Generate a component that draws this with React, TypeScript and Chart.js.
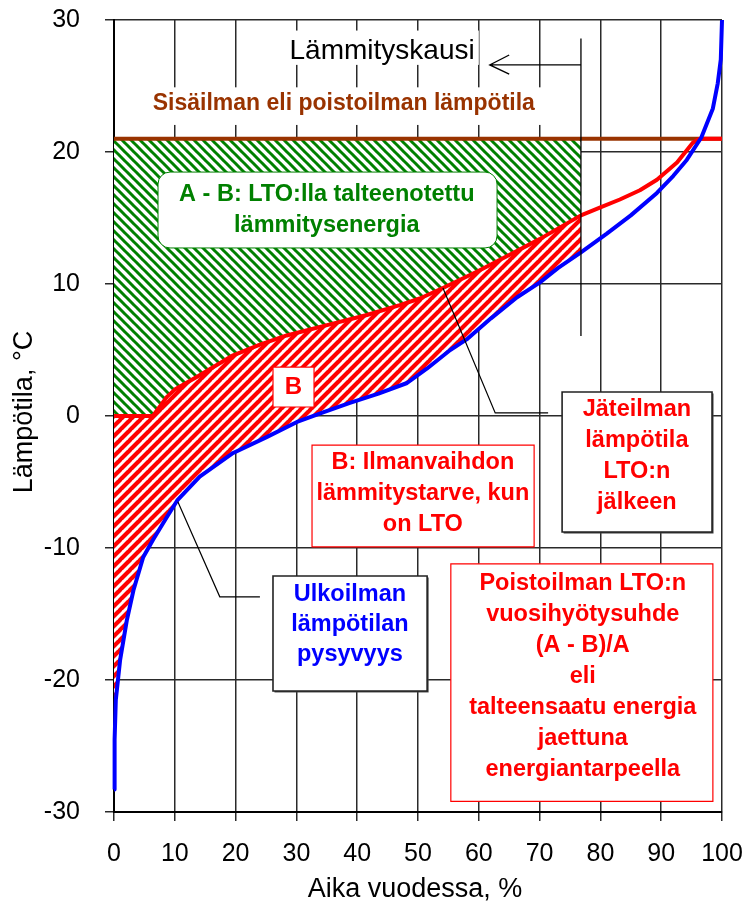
import React, { useEffect, useRef } from 'react';
import { Chart, registerables } from 'chart.js';

Chart.register(...registerables);

const FONT = '"Liberation Sans", Arial, Helvetica, sans-serif';

// ---- Data -------------------------------------------------------------
// Time of year (%) and exhaust-air temperature after heat recovery (°C)
const exhaustX = [0, 6.4, 8.7, 10, 13.6, 19.6, 24, 28.4, 36, 41.6, 47, 50.3, 54.1, 60, 65, 70, 76.8, 80, 83.2, 86.5, 89.3, 92.6, 95.2, 96.3, 100];
const exhaustY = [0, 0, 1.45, 2.0, 2.95, 4.6, 5.4, 6.1, 7.0, 7.65, 8.4, 8.9, 9.7, 11.0, 12.2, 13.4, 15.2, 15.8, 16.4, 17.1, 17.9, 19.2, 20.7, 21, 21];

// Outdoor temperature duration curve
const outdoorX = [0, 0.1, 0.3, 1.0, 2.1, 3.2, 4.8, 6.4, 8.5, 10.4, 14.1, 19.6, 25.1, 30.1, 34.5, 38.8, 43.5, 48.2, 51.5, 55.3, 58, 62, 66.3, 70, 73, 76.8, 81, 85, 89.3, 92, 94.2, 96.6, 98.5, 99.3, 99.8, 100];
const outdoorY = [-28.3, -24.5, -21.5, -18.5, -15.5, -13.2, -10.7, -9.4, -7.8, -6.4, -4.6, -2.8, -1.6, -0.45, 0.3, 1.0, 1.7, 2.5, 3.6, 5.0, 5.8, 7.4, 9.0, 10.1, 11.2, 12.4, 13.8, 15.2, 16.9, 18.2, 19.4, 21.1, 23.3, 25.2, 27.0, 30];

// Indoor (= extract) air temperature
const indoorX = [0, 100];
const indoorY = [21, 21];
const INDOOR_TEMP = 21;

// End of heating season (% of year)
const HEATING_SEASON_END = 76.8;

const X_MIN = 0, X_MAX = 100, X_STEP = 10;
const Y_MIN = -30, Y_MAX = 30, Y_STEP = 10;

// ---- Annotations (in data units) -------------------------------------
const LABEL_BACKGROUNDS = [
  { x0: 28.1, x1: 60.0, y0: 26.6, y1: 29.2 },
  { x0: 5.1, x1: 75.0, y0: 22.05, y1: 24.9 },
];

const FREE_TEXTS = [
  { text: 'Lämmityskausi', x: 44.1, y: 27.6, size: 28, bold: false, color: '#000000' },
  { text: 'Sisäilman eli poistoilman lämpötila', x: 37.8, y: 23.7, size: 23, bold: true, color: '#993300' },
];

const CALLOUTS = [
  [[54.1, 9.7], [62.7, 0.23], [71.4, 0.23]],
  [[10.5, -6.5], [17.4, -13.7], [24.0, -13.7]],
];

const BOXES = [
  { x0: 7.24, x1: 63.0, y0: 12.73, y1: 18.48, radius: 12, border: '#008000', bw: 1, shadow: false,
    lines: ['A - B: LTO:lla talteenotettu', 'lämmitysenergia'], cx: 35.0, cy: 15.57, spacing: 31, color: '#008000', size: 23.5 },
  { x0: 26.15, x1: 32.9, y0: 0.68, y1: 3.71, radius: 0, border: '#ff0000', bw: 1.2, shadow: false,
    lines: ['B'], cx: 29.5, cy: 2.2, spacing: 30, color: '#ff0000', size: 24 },
  { x0: 32.57, x1: 69.1, y0: -9.92, y1: -2.2, radius: 0, border: '#ff0000', bw: 1.2, shadow: false,
    lines: ['B: Ilmanvaihdon', 'lämmitystarve, kun', 'on LTO'], cx: 50.8, cy: -5.9, spacing: 31, color: '#ff0000', size: 23.5 },
  { x0: 73.7, x1: 98.36, y0: -8.79, y1: 1.82, radius: 0, border: '#222222', bw: 1.6, shadow: true,
    lines: ['Jäteilman', 'lämpötila', 'LTO:n', 'jälkeen'], cx: 86.0, cy: -3.03, spacing: 31.3, color: '#ff0000', size: 23.5 },
  { x0: 26.15, x1: 51.5, y0: -20.83, y1: -12.12, radius: 0, border: '#222222', bw: 1.6, shadow: true,
    lines: ['Ulkoilman', 'lämpötilan', 'pysyvyys'], cx: 38.8, cy: -15.83, spacing: 30, color: '#0000ff', size: 23.5 },
  { x0: 55.4, x1: 98.5, y0: -29.2, y1: -11.2, radius: 0, border: '#ff0000', bw: 1.2, shadow: false,
    lines: ['Poistoilman LTO:n', 'vuosihyötysuhde', '(A - B)/A', 'eli', 'talteensaatu energia', 'jaettuna', 'energiantarpeella'],
    cx: 77.1, cy: -19.7, spacing: 31, color: '#ff0000', size: 23.5 },
];

const X_TITLE = 'Aika vuodessa, %';
const Y_TITLE = 'Lämpötila, °C';

// ---- Helpers ---------------------------------------------------------
const toPoints = (xs: number[], ys: number[]) => xs.map((x, i) => ({ x, y: ys[i] }));

function makeHatch(ctx: CanvasRenderingContext2D, color: string, period: number, width: number, dir: 'down' | 'up') {
  const c = document.createElement('canvas');
  c.width = period;
  c.height = period;
  const g = c.getContext('2d')!;
  g.fillStyle = '#ffffff';
  g.fillRect(0, 0, period, period);
  g.strokeStyle = color;
  g.lineWidth = width;
  g.beginPath();
  for (let k = -1; k <= 1; k++) {
    if (dir === 'down') {
      g.moveTo(k * period - 1, -1);
      g.lineTo(k * period + period + 1, period + 1);
    } else {
      g.moveTo(k * period - 1, period + 1);
      g.lineTo(k * period + period + 1, -1);
    }
  }
  g.stroke();
  return ctx.createPattern(c, 'repeat')!;
}

const annotationPlugin = {
  id: 'lto-annotations',
  beforeDatasetsDraw(chart: any) {
    const { ctx, scales } = chart;
    const X = (v: number) => scales.x.getPixelForValue(v);
    const Y = (v: number) => scales.y.getPixelForValue(v);
    ctx.save();
    ctx.fillStyle = '#ffffff';
    for (const b of LABEL_BACKGROUNDS) {
      ctx.fillRect(X(b.x0), Y(b.y1), X(b.x1) - X(b.x0), Y(b.y0) - Y(b.y1));
    }
    ctx.restore();
  },
  afterDatasetsDraw(chart: any) {
    const { ctx, scales } = chart;
    const X = (v: number) => scales.x.getPixelForValue(v);
    const Y = (v: number) => scales.y.getPixelForValue(v);
    ctx.save();

    // free texts
    ctx.textAlign = 'center';
    ctx.textBaseline = 'middle';
    for (const t of FREE_TEXTS) {
      ctx.font = `${t.bold ? 'bold ' : ''}${t.size}px ${FONT}`;
      ctx.fillStyle = t.color;
      ctx.fillText(t.text, X(t.x), Y(t.y));
    }

    // heating season marker + arrow
    ctx.strokeStyle = '#000000';
    ctx.lineWidth = 1.3;
    ctx.beginPath();
    ctx.moveTo(X(HEATING_SEASON_END), Y(28.6));
    ctx.lineTo(X(HEATING_SEASON_END), Y(6.06));
    ctx.moveTo(X(HEATING_SEASON_END), Y(26.6));
    ctx.lineTo(X(61.8), Y(26.6));
    ctx.moveTo(X(65.0), Y(27.35));
    ctx.lineTo(X(61.8), Y(26.6));
    ctx.lineTo(X(65.0), Y(25.9));
    ctx.stroke();

    // callout lines
    ctx.lineWidth = 1.2;
    for (const c of CALLOUTS) {
      ctx.beginPath();
      c.forEach(([vx, vy], i) => (i === 0 ? ctx.moveTo(X(vx), Y(vy)) : ctx.lineTo(X(vx), Y(vy))));
      ctx.stroke();
    }

    // boxes
    for (const b of BOXES) {
      const l = X(b.x0), r = X(b.x1), t = Y(b.y1), btm = Y(b.y0);
      if (b.shadow) {
        ctx.fillStyle = '#444444';
        ctx.fillRect(l + 1.5, t + 1.5, r - l, btm - t);
      }
      ctx.beginPath();
      if (b.radius > 0) {
        ctx.roundRect(l, t, r - l, btm - t, b.radius);
      } else {
        ctx.rect(l, t, r - l, btm - t);
      }
      ctx.fillStyle = '#ffffff';
      ctx.fill();
      ctx.lineWidth = b.bw;
      ctx.strokeStyle = b.border;
      ctx.stroke();

      ctx.font = `bold ${b.size}px ${FONT}`;
      ctx.fillStyle = b.color;
      ctx.textAlign = 'center';
      ctx.textBaseline = 'middle';
      const n = b.lines.length;
      const cyPx = Y(b.cy);
      b.lines.forEach((line, i) => {
        ctx.fillText(line, X(b.cx), cyPx + (i - (n - 1) / 2) * b.spacing);
      });
    }
    ctx.restore();
  },
  afterDraw(chart: any) {
    const { ctx, chartArea } = chart;
    ctx.save();
    ctx.fillStyle = '#000000';
    ctx.font = `27px ${FONT}`;
    ctx.textAlign = 'center';
    ctx.textBaseline = 'middle';
    ctx.fillText(X_TITLE, (chartArea.left + chartArea.right) / 2 - 3, chartArea.bottom + 78);
    ctx.translate(25, (chartArea.top + chartArea.bottom) / 2 - 4);
    ctx.rotate(-Math.PI / 2);
    ctx.font = `27px ${FONT}`;
    ctx.fillText(Y_TITLE, 0, 0);
    ctx.restore();
  },
};

export default function App() {
  const canvasRef = useRef<HTMLCanvasElement | null>(null);

  useEffect(() => {
    document.body.style.margin = '0';
    const canvas = canvasRef.current!;
    const ctx = canvas.getContext('2d')!;
    const green = makeHatch(ctx, '#008000', 9, 3, 'down');
    const red = makeHatch(ctx, '#ff0000', 10, 4.2, 'up');

    const exhaustPts = toPoints(exhaustX, exhaustY);
    const outdoorPts = toPoints(outdoorX, outdoorY);
    const indoorPts = toPoints(indoorX, indoorY);
    const exhaustHeating = exhaustPts.filter((p) => p.x <= HEATING_SEASON_END);
    const outdoorHeating = outdoorPts.filter((p) => p.x <= HEATING_SEASON_END);

    const transparent = 'rgba(0,0,0,0)';

    const chart = new Chart(canvas, {
      type: 'line',
      data: {
        datasets: [
          { label: 'A - B', data: exhaustHeating, fill: { value: INDOOR_TEMP }, backgroundColor: green, borderColor: transparent, borderWidth: 0, pointRadius: 0, order: 10 },
          { label: 'B', data: exhaustHeating, fill: 2, backgroundColor: red, borderColor: transparent, borderWidth: 0, pointRadius: 0, order: 9 },
          { label: 'outdoor heating', data: outdoorHeating, fill: false, borderColor: transparent, borderWidth: 0, pointRadius: 0, order: 8 },
          { label: 'Sisäilma', data: indoorPts, fill: false, borderColor: '#993300', borderWidth: 4, pointRadius: 0, order: 2, clip: 6 },
          { label: 'Jäteilma', data: exhaustPts, fill: false, borderColor: '#ff0000', borderWidth: 4, pointRadius: 0, order: 1, clip: 6 },
          { label: 'Ulkoilma', data: outdoorPts, fill: false, borderColor: '#0000ff', borderWidth: 4, pointRadius: 0, order: 0, clip: 6 },
        ] as any,
      },
      options: {
        responsive: false,
        animation: false,
        events: [],
        layout: { padding: { left: 0, top: 20, right: 27, bottom: 0 } },
        elements: { line: { tension: 0, borderJoinStyle: 'round' }, point: { radius: 0 } },
        plugins: { legend: { display: false }, tooltip: { enabled: false }, title: { display: false } },
        scales: {
          x: {
            type: 'linear',
            min: X_MIN,
            max: X_MAX,
            ticks: { stepSize: X_STEP, color: '#000', font: { family: FONT, size: 25 }, padding: 18, maxRotation: 0 },
            grid: { color: '#2a2a2a', lineWidth: 1.5, tickLength: 9 },
            border: { color: '#000', width: 2 },
            afterFit: (s: any) => { s.height = 92; s.paddingLeft = 0; s.paddingRight = 0; },
          },
          y: {
            type: 'linear',
            min: Y_MIN,
            max: Y_MAX,
            ticks: { stepSize: Y_STEP, color: '#000', font: { family: FONT, size: 25 }, padding: 25 },
            grid: { color: '#2a2a2a', lineWidth: 1.5, tickLength: 9 },
            border: { color: '#000', width: 2 },
            afterFit: (s: any) => { s.width = 114; s.paddingTop = 0; s.paddingBottom = 0; },
          },
        },
      } as any,
      plugins: [annotationPlugin],
    });

    return () => chart.destroy();
  }, []);

  return (
    <div style={{ width: 749, height: 904, background: '#ffffff' }}>
      <canvas ref={canvasRef} width={749} height={904} style={{ display: 'block' }} />
    </div>
  );
}
